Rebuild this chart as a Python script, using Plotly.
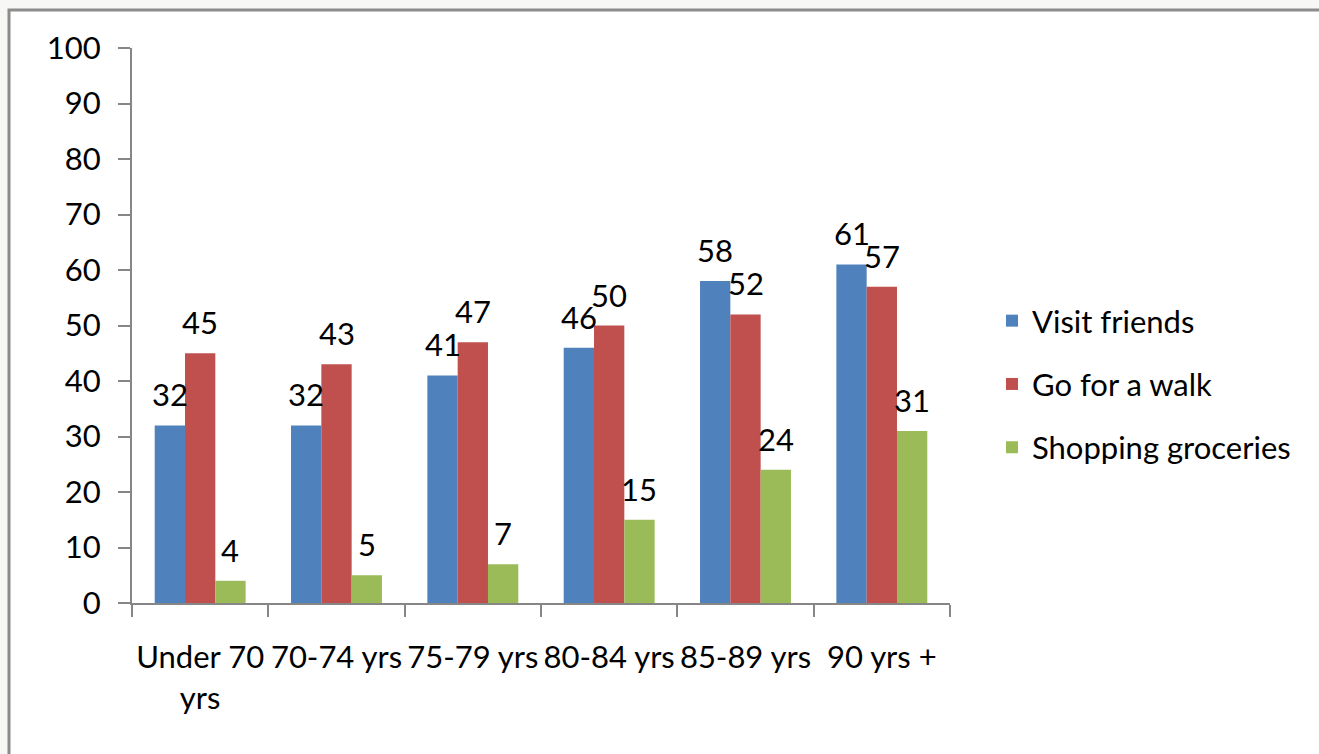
import plotly.graph_objects as go

categories = ["Under 70<br>yrs", "70-74 yrs", "75-79 yrs", "80-84 yrs", "85-89 yrs", "90 yrs +"]
visit_friends = [32, 32, 41, 46, 58, 61]
go_for_walk = [45, 43, 47, 50, 52, 57]
shopping = [4, 5, 7, 15, 24, 31]

series_names = ["Visit friends", "Go for a walk", "Shopping groceries"]
series_values = [visit_friends, go_for_walk, shopping]
colors = ["#4F81BD", "#C0504D", "#9BBB59"]

FONT = "Lato"
FSIZE = 31
BARGAP = 0.333

fig = go.Figure()
for name, vals, col in zip(series_names, series_values, colors):
    fig.add_trace(go.Bar(
        x=categories, y=vals, name=name, legendgroup=name,
        marker=dict(color=col, line=dict(width=0)),
    ))

# data labels via annotations positioned on the category axis
w = (1 - BARGAP) / 3
annotations = []
for k, vals in enumerate(series_values):
    for i, v in enumerate(vals):
        annotations.append(dict(
            x=i + (k - 1) * w, y=v, xref="x", yref="y",
            text=str(v), showarrow=False, yanchor="middle", yshift=31,
            font=dict(family=FONT, size=FSIZE, color="black"),
        ))

L, R, T, B = 132, 369, 48, 151
pw = 1319 - L - R
ph = 754 - T - B

def px_x(p):
    return (p - L) / pw

def px_y(p):
    return (754 - B - p) / ph

fig.update_layout(
    width=1319, height=754,
    margin=dict(l=L, r=R, t=T, b=B, pad=0, autoexpand=False),
    paper_bgcolor="#F7F7F5",
    plot_bgcolor="rgba(0,0,0,0)",
    barmode="group", bargap=BARGAP, bargroupgap=0,
    font=dict(family=FONT, size=FSIZE, color="black"),
    showlegend=True,
    legend=dict(
        x=px_x(992), y=px_y(384), xanchor="left", yanchor="middle",
        font=dict(family=FONT, size=FSIZE, color="black"),
        tracegroupgap=20, bgcolor="rgba(0,0,0,0)",
        itemwidth=30,
    ),
    xaxis=dict(
        type="category", showgrid=False, showline=True, linecolor="#868686",
        linewidth=2, ticks="outside", ticklen=12, tickwidth=2, tickcolor="#868686",
        tickson="boundaries", tickfont=dict(family=FONT, size=FSIZE, color="black"),
        zeroline=False, fixedrange=True, ticklabelstandoff=26,
        tickangle=0, automargin=False,
    ),
    yaxis=dict(
        range=[0, 100], dtick=10, showgrid=False, showline=True, linecolor="#868686",
        linewidth=2, ticks="outside", ticklen=12, tickwidth=2, tickcolor="#868686",
        tickfont=dict(family=FONT, size=FSIZE, color="black"), zeroline=False,
        ticklabelstandoff=11, automargin=False,
    ),
    annotations=annotations,
    shapes=[dict(
        type="rect", xref="paper", yref="paper",
        x0=px_x(9), x1=px_x(1340), y0=px_y(780), y1=px_y(10),
        fillcolor="white", line=dict(color="#8C8C8C", width=3), layer="below",
    )],
)

fig.write_html("out.html")
